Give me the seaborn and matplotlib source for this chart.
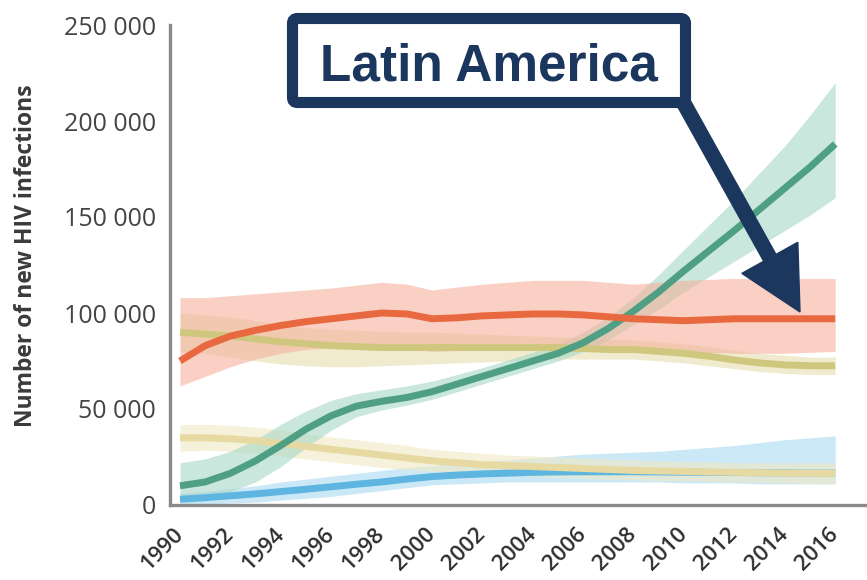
import numpy as np
import pandas as pd
import matplotlib
matplotlib.use("Agg")
import matplotlib.pyplot as plt
from matplotlib.patches import FancyArrow, FancyBboxPatch
from matplotlib.transforms import IdentityTransform, offset_copy
import seaborn as sns

years = list(range(1990, 2017))

orange_mid = [75000, 83000, 88000, 91000, 93500, 95500, 97000, 98500, 100000, 99500,
              97000, 97500, 98500, 99000, 99500, 99500, 99000, 98000, 97000, 96500,
              96000, 96500, 97000, 97000, 97000, 97000, 97000]
orange_lo = [62000, 67000, 72000, 76000, 79000, 81000, 82000, 83000, 83000, 82000,
             80000, 80500, 81000, 81000, 81000, 81000, 81000, 80500, 80000, 80000,
             79500, 79500, 79000, 79000, 79000, 79500, 80000]
orange_hi = [108000, 108000, 109000, 110000, 111000, 112000, 113000, 114500, 116000, 115000,
             112000, 113500, 115000, 116000, 117000, 117000, 117000, 116000, 115000, 116000,
             117000, 117500, 118000, 118000, 118000, 118000, 118000]

olive_mid = [90000, 89000, 88000, 86500, 85000, 84000, 83000, 82500, 82000, 82000,
             82000, 82000, 82000, 82000, 82000, 82000, 81500, 81000, 81000, 80000,
             79000, 77500, 75500, 74000, 73000, 72500, 72500]
olive_lo = [80000, 79000, 77000, 75000, 73500, 72500, 72000, 72000, 72500, 73000,
            73500, 74000, 74500, 75000, 75500, 76000, 76000, 76000, 76000, 75000,
            74000, 72500, 71000, 69500, 68500, 68000, 68000]
olive_hi = [100000, 99000, 98000, 96000, 94000, 92500, 91500, 91000, 90500, 90000,
            90000, 89500, 89000, 88500, 88000, 87500, 87000, 86500, 86000, 85000,
            84000, 82500, 80500, 79000, 78000, 77000, 77000]

beige_mid = [35000, 35000, 34500, 33500, 32000, 30500, 29000, 27500, 26000, 24500,
             23000, 22000, 21000, 20500, 20000, 19500, 19000, 18500, 18000, 17700,
             17500, 17200, 17000, 16800, 16600, 16500, 16500]
beige_lo = [28000, 28500, 28000, 27000, 25500, 24000, 22500, 21000, 19500, 18500,
            17500, 16500, 16000, 15500, 15000, 14500, 14000, 13500, 13000, 12700,
            12500, 12200, 12000, 11800, 11500, 11200, 11000]
beige_hi = [42000, 42000, 41500, 40500, 39000, 37000, 35500, 34000, 32500, 31000,
            29000, 28000, 27000, 26000, 25500, 25000, 24500, 24000, 23500, 23000,
            22500, 22500, 22000, 22000, 22000, 22000, 22000]

green_mid = [10000, 12000, 16500, 23000, 31000, 39500, 46500, 51500, 54000, 56000,
             59000, 63000, 67000, 71000, 75000, 79000, 84500, 92000, 101000, 111000,
             122000, 132500, 143000, 154000, 165000, 176000, 188000]
green_lo = [3000, 4000, 7000, 12000, 20000, 30000, 39000, 46000, 49500, 52000,
            55000, 59000, 63000, 67000, 71000, 75000, 80000, 86000, 94000, 102000,
            111000, 119000, 127000, 135000, 143000, 151000, 160000]
green_hi = [22000, 24000, 28000, 34000, 42000, 49000, 54500, 58000, 60000, 62000,
            64500, 68000, 71500, 75500, 79500, 84000, 90000, 98000, 108000, 120000,
            133000, 146000, 159000, 173000, 187000, 203000, 220000]

blue_mid = [3000, 3800, 4800, 5800, 7000, 8200, 9500, 10800, 12000, 13500,
            14800, 15600, 16200, 16600, 17000, 17200, 17300, 17300, 17300, 17200,
            17100, 17000, 16900, 16800, 16700, 16600, 16600]
blue_lo = [0, 500, 1000, 1500, 2500, 3500, 4500, 6000, 7500, 9000,
           10500, 11000, 11500, 12000, 12000, 12000, 12000, 12000, 12000, 12000,
           11500, 11500, 11500, 11000, 11000, 11000, 11000]
blue_hi = [6000, 7000, 8500, 10000, 12000, 13500, 15000, 16500, 18000, 19500,
           20500, 21500, 22500, 23500, 24500, 25500, 26500, 27000, 27500, 28000,
           29000, 30000, 31000, 32500, 34000, 35000, 36000]

ytick_values = [0, 50000, 100000, 150000, 200000, 250000]
ytick_labels = ["0", "50 000", "100 000", "150 000", "200 000", "250 000"]
xtick_values = list(range(1990, 2017, 2))

# drawing order: bottom to top
series = [
    ("blue", blue_mid, blue_lo, blue_hi, "#5DB5E0", "#A9DAF2"),
    ("beige", beige_mid, beige_lo, beige_hi, "#E6D9A2", "#F1E8C2"),
    ("olive", olive_mid, olive_lo, olive_hi, "#CFC77E", "#E7DFAE"),
    ("green", green_mid, green_lo, green_hi, "#4F9F84", "#A6D7C6"),
    ("orange", orange_mid, orange_lo, orange_hi, "#E8693F", "#F5B29C"),
]

frames = []
for name, mid, lo, hi, _, _ in series:
    frames.append(pd.DataFrame({"year": years, "value": mid, "lo": lo, "hi": hi, "region": name}))
df = pd.concat(frames, ignore_index=True)

sns.set_style("white")
plt.rcParams["font.family"] = ["Open Sans", "DejaVu Sans"]

W, H = 867, 580
fig = plt.figure(figsize=(W / 100, H / 100), dpi=100)
ax = fig.add_axes([170 / W, 1 - 505 / H, (865 - 170) / W, (505 - 25) / H])

for name, mid, lo, hi, line_c, band_c in series:
    sub = df[df["region"] == name]
    ax.fill_between(sub["year"], sub["lo"], sub["hi"], color=band_c, alpha=0.6, lw=0, zorder=1)

palette = {name: line_c for name, _, _, _, line_c, _ in series}
for name, *_ in series:
    sub = df[df["region"] == name]
    sns.lineplot(data=sub, x="year", y="value", color=palette[name], lw=5,
                 ax=ax, legend=False, errorbar=None, zorder=3,
                 solid_capstyle="butt")

ax.set_xlim(1990 - 10 / 25.2, 1990 + 685 / 25.2)
ax.set_ylim(0, 250000)
ax.set_yticks(ytick_values)
ax.set_yticklabels(ytick_labels, fontsize=18, color="#454545")
ax.set_xticks(xtick_values)
ax.set_xticklabels([str(y) for y in xtick_values], fontsize=16, color="#2e2e2e",
                   fontweight="semibold",
                   rotation=45, ha="right", va="center", rotation_mode="anchor")
for lab in ax.get_xticklabels():
    lab.set_transform(offset_copy(lab.get_transform(), fig=fig, x=18, y=0, units="dots"))
ax.tick_params(axis="y", length=0, pad=10)
ax.tick_params(axis="x", length=0, pad=19)
ax.set_xlabel("")
ax.set_ylabel("Number of new HIV infections", fontsize=16.5, fontweight="bold",
              color="#3a3a3a")
ax.yaxis.set_label_coords(-0.19, 0.52)

sns.despine(ax=ax)
for side in ("left", "bottom"):
    ax.spines[side].set_color("#8a8a8a")
    ax.spines[side].set_linewidth(2.4)

navy = "#1B375E"
# callout arrow (pixel coordinates, origin bottom-left)
arrow = FancyArrow(682, H - 100, 118, -212, width=14, head_width=64, head_length=62,
                   length_includes_head=True, color=navy, transform=IdentityTransform(),
                   zorder=10)
fig.add_artist(arrow)
box = FancyBboxPatch((292.5, H - 102.5), 393, 84, boxstyle="round,pad=0,rounding_size=5",
                     fc="white", ec=navy, lw=8, transform=IdentityTransform(), zorder=11)
fig.add_artist(box)
fig.text(489 / W, 1 - 80 / H, "Latin America", ha="center", va="baseline",
         fontsize=37, fontweight="bold", color=navy,
         family=["Liberation Sans", "DejaVu Sans"], zorder=12)

fig.savefig("out.png", dpi=100)
